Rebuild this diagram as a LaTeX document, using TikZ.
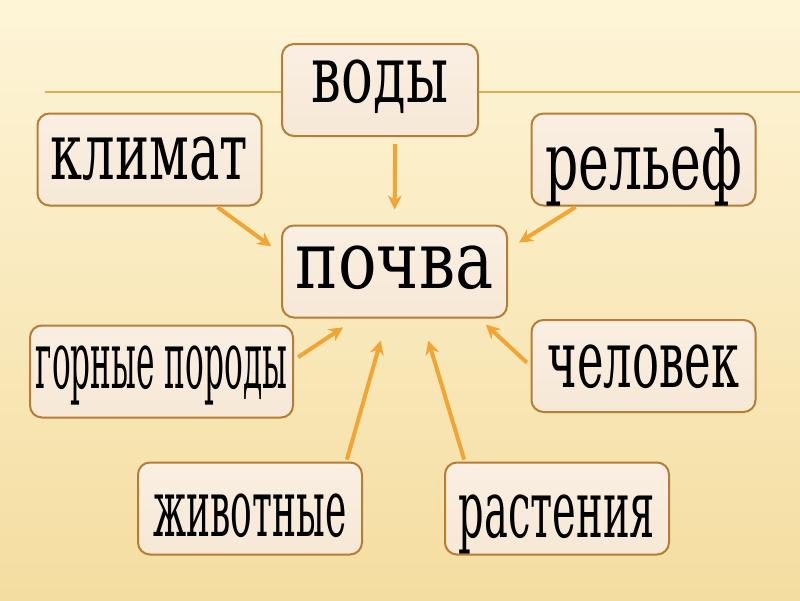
\documentclass[tikz,border=0pt]{standalone}
\usepackage{fontspec}
\setmainfont{DejaVu Serif}
\newfontfamily\wordfont{DejaVu Serif}
\usetikzlibrary{arrows.meta}

\definecolor{bgtop}{HTML}{FEF5D8}
\definecolor{bgbot}{HTML}{F4DDA0}
\definecolor{boxfill}{HTML}{F7E8D6}
\definecolor{boxline}{HTML}{B47E36}
\definecolor{arrowcol}{HTML}{F0A535}
\definecolor{rulecol}{HTML}{E0AE55}

% squeeze a word sideways and lift it inside its box
\newcommand\sqz[3]{\raisebox{#2}{\scalebox{#1}[1]{#3}}}

\begin{document}
\begin{tikzpicture}[x=1pt,y=-1pt,
    box/.style={draw=boxline,line width=2pt,rounded corners=12pt,
      top color=boxfill!70!white,bottom color=boxfill,
      minimum width=224pt,minimum height=92pt,inner sep=0pt,
      text height=40pt,text depth=0pt,
      font=\wordfont\fontsize{80}{84}\selectfont},
    feed/.style={draw=arrowcol,line width=4pt,
      -{Stealth[length=14pt,width=14pt]}}]

    % background and rule
    \useasboundingbox (0,0) rectangle (800,600);
    \shade[top color=bgtop,bottom color=bgbot] (0,0) rectangle (800,600);
    \draw[rulecol,line width=1.5pt] (45,92) -- (800,92);

    % boxes
    \node[box,minimum width=196pt] (vody) at (380,90) {\sqz{0.66}{8pt}{воды}};
    \node[box,minimum width=225pt] (pochva) at (394.5,271.5) {\sqz{0.8}{3pt}{почва}};
    \node[box] (klimat) at (149.5,159.5) {\sqz{0.64}{0pt}{климат}};
    \node[box] (relief) at (643.5,159.5) {\sqz{0.65}{-10pt}{рельеф}};
    \node[box,minimum width=263pt] (porody) at (161.5,371.5) {\sqz{0.39}{3pt}{горные породы}};
    \node[box] (chelovek) at (643.5,366) {\sqz{0.56}{-1pt}{человек}};
    \node[box] (zhivotnye) at (250,508.5) {\sqz{0.45}{-8pt}{животные}};
    \node[box] (rastenia) at (557,508.5) {\sqz{0.5}{-9pt}{растения}};

    % arrows into the soil
    \draw[feed,shorten <=7pt,shorten >=15pt] (vody.-72) -- (pochva.north);
    \draw[feed,shorten <=1pt,shorten >=12pt] (klimat.-35) -- (pochva.171);
    \draw[feed,shorten <=1pt,shorten >=13pt] (relief.-145) -- (pochva.11.5);
    \draw[feed,shorten <=5pt,shorten >=16pt] (porody.5.6) -- (pochva.-129);
    \draw[feed,shorten <=5pt,shorten >=9pt] (chelovek.west) -- (pochva.-29);
    \draw[feed,shorten <=2pt,shorten >=23pt] (zhivotnye.26.3) -- (pochva.-99.6);
    \draw[feed,shorten <=2pt,shorten >=23pt] (rastenia.153.2) -- (pochva.-60.1);

\end{tikzpicture}
\end{document}
